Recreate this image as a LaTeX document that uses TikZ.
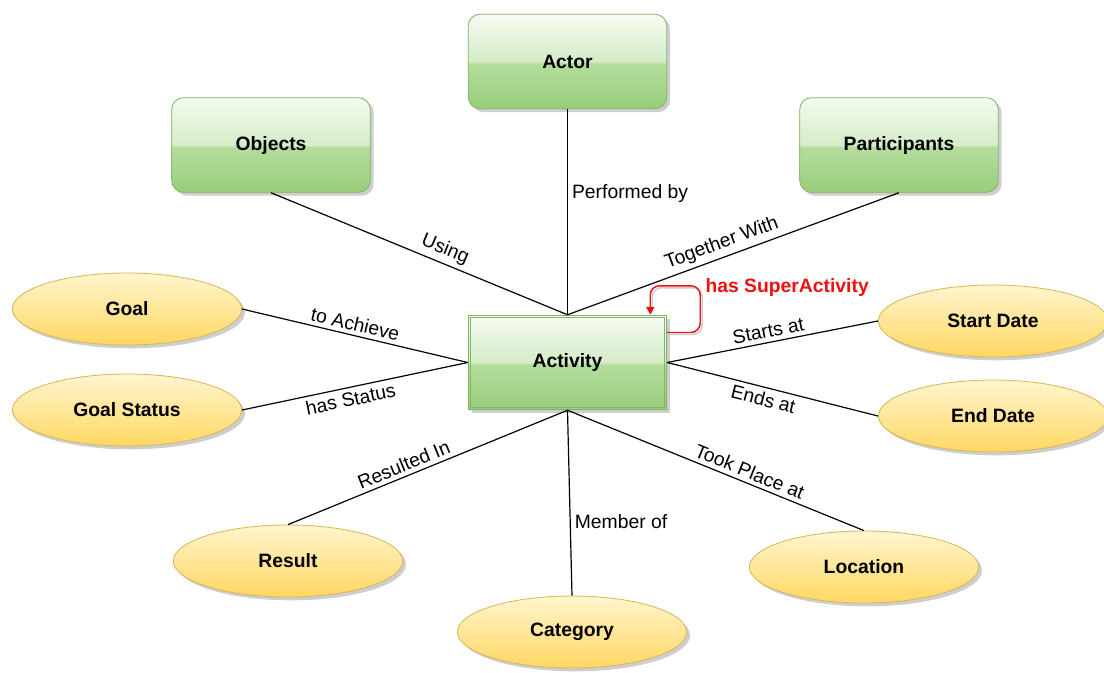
\documentclass[tikz,border=0pt]{standalone}
\usepackage{fontspec}
\setmainfont{Liberation Sans}
\usetikzlibrary{shapes.geometric,shadows,calc,arrows.meta}

% palette
\definecolor{gA}{HTML}{98CD7A}
\definecolor{gB}{HTML}{B5DD9E}
\definecolor{gC}{HTML}{D5ECC8}
\definecolor{gD}{HTML}{F5FBF1}
\definecolor{gline}{HTML}{82B366}
\definecolor{yTop}{HTML}{FFF5CE}
\definecolor{yBot}{HTML}{FFD762}
\definecolor{yline}{HTML}{D6B656}
\definecolor{relred}{HTML}{EE1111}

% glossy green fill: light upper half, deeper lower half
\pgfdeclareverticalshading{glassgreen}{100bp}{color(0bp)=(gA); color(25bp)=(gA); color(49bp)=(gB); color(50bp)=(gC); color(75bp)=(gD); color(100bp)=(gD)}

\newcommand\labelsize{\fontsize{14.5}{17}\selectfont}

\tikzset{
  softshadow/.style={drop shadow={shadow xshift=2.5pt, shadow yshift=-2.5pt, fill=black!55, opacity=0.35}},
  entity/.style={rectangle, rounded corners=9pt, draw=gline, line width=0.6pt,
    shade, shading=glassgreen, minimum width=149pt, minimum height=71pt,
    font=\labelsize\bfseries, softshadow},
  central/.style={entity, rounded corners=0pt},
  attr/.style={ellipse, draw=yline, line width=0.6pt, top color=yTop, bottom color=yBot,
    minimum width=172pt, minimum height=54pt, inner sep=0pt,
    font=\labelsize\bfseries, softshadow},
  rel/.style={draw=black, line width=0.9pt},
  rellabel/.style={font=\labelsize, inner sep=3pt},
  selfrel/.style={draw=relred, line width=1.1pt, rounded corners=7pt, -{Triangle[length=6pt,width=6pt]}},
}

\begin{document}
\begin{tikzpicture}[x=0.75pt, y=-0.75pt]
  \useasboundingbox (0,0) rectangle (1104,672);
  \fill[white] (0,0) rectangle (1104,672);

  % entities
  \node[entity] (actor) at (567.5,61.5) {Actor};
  \node[entity] (objects) at (271,145) {Objects};
  \node[entity] (participants) at (899,145) {Participants};
  \node[central] (act) at (567.5,362.5) {Activity};
  \draw[gline, line width=0.5pt] ($(act.north west)+(3,3)$) rectangle ($(act.south east)+(-3,-3)$);

  % attributes
  \node[attr] (goal) at (127,309) {Goal};
  \node[attr] (gstatus) at (127,410) {Goal Status};
  \node[attr] (start) at (993,321) {Start Date};
  \node[attr] (end) at (993,416) {End Date};
  \node[attr] (result) at (288,561) {Result};
  \node[attr] (category) at (572,632) {Category};
  \node[attr] (location) at (864,567) {Location};

  % relations
  \draw[rel] (act.north) -- node[rellabel, pos=0.59, right] {Performed by} (actor.south);
  \draw[rel] (objects.south) -- node[rellabel, pos=0.57, sloped, above] {Using} (act.north);
  \draw[rel] (act.north) -- node[rellabel, pos=0.48, sloped, above] {Together With} (participants.south);
  \draw[rel] (goal.east) -- node[rellabel, pos=0.49, sloped, above] {to Achieve} (act.west);
  \draw[rel] (gstatus.east) -- node[rellabel, pos=0.47, sloped, below] {has Status} (act.west);
  \draw[rel] (act.east) -- node[rellabel, pos=0.49, sloped, above] {Starts at} (start.west);
  \draw[rel] (act.east) -- node[rellabel, pos=0.47, sloped, below] {Ends at} (end.west);
  \draw[rel] (result.north) -- node[rellabel, pos=0.43, sloped, above] {Resulted In} (act.south);
  \draw[rel] (act.south) -- node[rellabel, pos=0.6, right] {Member of} (category.north);
  \draw[rel] (act.south) -- node[rellabel, pos=0.6, sloped, above] {Took Place at} (location.north);

  % self relation
  \coordinate (loopstart) at ($(act.east)+(0,-30)$);
  \coordinate (loopturn) at ($(act.north east)+(33,-29)$);
  \coordinate (loopend) at ($(act.north east)+(-17,0)$);
  \draw[black!20, line width=1.1pt, rounded corners=7pt] ($(loopstart)+(2,2)$) -| ($(loopturn)+(2,2)$) -| ($(loopend)+(2,-2)$);
  \draw[selfrel] (loopstart) -| (loopturn) -| (loopend);
  \node[font=\labelsize\bfseries, text=relred, anchor=west, inner sep=0pt] (superlbl) at ($(loopturn)+(5,2)$) {has SuperActivity};
\end{tikzpicture}
\end{document}
